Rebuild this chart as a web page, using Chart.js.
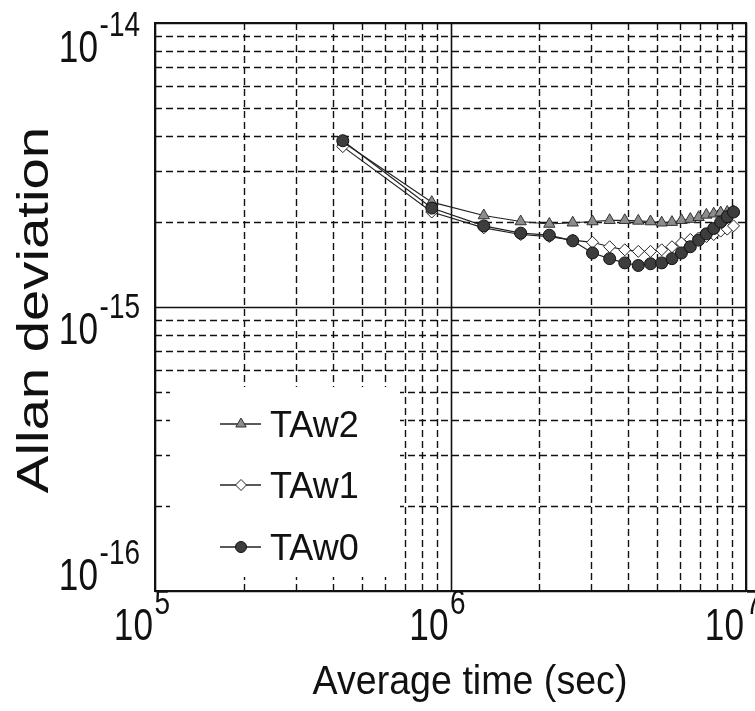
<!DOCTYPE html>
<html>
<head>
<meta charset="utf-8">
<script src="https://cdn.jsdelivr.net/npm/chart.js@4.4.1/dist/chart.umd.min.js"></script>
<style>
  html, body { margin: 0; padding: 0; background: #fff; }
  #wrap { width: 755px; height: 711px; }
</style>
</head>
<body>
<div id="wrap"><canvas id="allanChart" width="755" height="711"></canvas></div>
<script>
// averaging time (s), every 5 days
const tauSec = [432000, 864000, 1296000, 1728000, 2160000, 2592000, 3024000, 3456000, 3888000, 4320000, 4752000,
  5184000, 5616000, 6048000, 6480000, 6912000, 7344000, 7776000, 8208000, 8640000, 9072000];

// Allan deviation
const taw2 = [3.81e-15, 2.34e-15, 2.10e-15, 2.00e-15, 1.96e-15, 1.98e-15, 2.00e-15, 2.02e-15, 2.02e-15, 2.01e-15, 2.00e-15,
  1.98e-15, 1.99e-15, 2.02e-15, 2.04e-15, 2.07e-15, 2.11e-15, 2.13e-15, 2.15e-15, 2.16e-15, 2.17e-15];
const taw1 = [3.67e-15, 2.16e-15, 1.90e-15, 1.80e-15, 1.77e-15, 1.72e-15, 1.69e-15, 1.63e-15, 1.59e-15, 1.57e-15, 1.57e-15,
  1.59e-15, 1.63e-15, 1.68e-15, 1.73e-15, 1.75e-15, 1.77e-15, 1.80e-15, 1.85e-15, 1.88e-15, 1.93e-15];
const taw0 = [3.85e-15, 2.23e-15, 1.93e-15, 1.82e-15, 1.79e-15, 1.71e-15, 1.55e-15, 1.48e-15, 1.43e-15, 1.40e-15, 1.42e-15,
  1.43e-15, 1.48e-15, 1.55e-15, 1.63e-15, 1.72e-15, 1.81e-15, 1.89e-15, 1.99e-15, 2.08e-15, 2.16e-15];

const seriesNames = ['TAw2', 'TAw1', 'TAw0'];

// tick labels (10^exp)
const xTickValues = [1e5, 1e6, 1e7];
const xTickExp = ['5', '6', '7'];
const yTickValues = [1e-14, 1e-15, 1e-16];
const yTickExp = ['-14', '-15', '-16'];

const xTitle = 'Average time (sec)';
const yTitle = 'Allan deviation';

const FONT = '"Liberation Sans", Arial, sans-serif';

function toPoints(vals) {
  return tauSec.map((t, i) => ({ x: t, y: vals[i] }));
}

function isDecade(v) {
  const l = Math.log10(v);
  return Math.abs(l - Math.round(l)) < 1e-9;
}

// 1..9 x 10^n between min and max
function gridValues(min, max) {
  const out = [];
  for (let e = Math.floor(Math.log10(min)); e <= Math.ceil(Math.log10(max)); e++) {
    for (let m = 1; m <= 9; m++) {
      const v = m * Math.pow(10, e);
      if (v >= min * 0.999999 && v <= max * 1.000001) out.push(v);
    }
  }
  return out;
}

function drawPower(ctx, xRight, baseline, exp, size) {
  ctx.save();
  ctx.translate(xRight, baseline);
  ctx.scale(0.8, 1);
  ctx.fillStyle = '#111';
  ctx.textBaseline = 'alphabetic';
  ctx.font = size + 'px ' + FONT;
  ctx.textAlign = 'right';
  ctx.fillText('10', 0, 0);
  ctx.font = Math.round(size * 0.8) + 'px ' + FONT;
  ctx.textAlign = 'left';
  ctx.fillText(exp, 2, -size * 0.6);
  ctx.restore();
}

const styles = [
  { pointStyle: 'triangle', radius: 6.5, fill: '#8c8c8c', stroke: '#333333' },
  { pointStyle: 'rectRot', radius: 6, fill: '#ffffff', stroke: '#222222' },
  { pointStyle: 'circle', radius: 6, fill: '#3d3d3d', stroke: '#111111' }
];

const legendBox = { x0: 170, y0: 387, x1: 400, y1: 577 };

function strokeLine(ctx, x0, y0, x1, y1) {
  ctx.beginPath();
  ctx.moveTo(x0, y0);
  ctx.lineTo(x1, y1);
  ctx.stroke();
}

const framePlugin = {
  id: 'frame',
  beforeDatasetsDraw(chart) {
    const { ctx, chartArea: a, scales: { x, y } } = chart;
    ctx.save();
    ctx.strokeStyle = '#111';
    // dashed minor grid
    ctx.lineWidth = 1.4;
    ctx.setLineDash([7, 4]);
    gridValues(x.min, x.max).filter(v => !isDecade(v)).forEach(v => {
      const px = Math.round(x.getPixelForValue(v)) + 0.5;
      strokeLine(ctx, px, a.top, px, a.bottom);
    });
    gridValues(y.min, y.max).filter(v => !isDecade(v)).forEach(v => {
      const py = Math.round(y.getPixelForValue(v)) + 0.5;
      strokeLine(ctx, a.left, py, a.right, py);
    });
    // solid decade lines
    ctx.setLineDash([]);
    ctx.lineWidth = 1.6;
    gridValues(x.min, x.max).filter(isDecade).forEach(v => {
      const px = Math.round(x.getPixelForValue(v)) + 0.5;
      strokeLine(ctx, px, a.top, px, a.bottom);
    });
    gridValues(y.min, y.max).filter(isDecade).forEach(v => {
      const py = Math.round(y.getPixelForValue(v)) + 0.5;
      strokeLine(ctx, a.left, py, a.right, py);
    });
    // legend background covers the grid
    ctx.fillStyle = '#fff';
    ctx.fillRect(legendBox.x0, legendBox.y0, legendBox.x1 - legendBox.x0, legendBox.y1 - legendBox.y0);
    // frame
    ctx.lineWidth = 2;
    ctx.strokeRect(a.left, a.top, a.right - a.left, a.bottom - a.top);
    ctx.restore();
  },
  afterDraw(chart) {
    const { ctx, chartArea: a, scales: { x, y } } = chart;
    ctx.save();
    // legend entries
    const rows = [424, 485, 547];
    seriesNames.forEach((name, i) => {
      const ly = rows[i];
      const s = styles[i];
      ctx.strokeStyle = '#222';
      ctx.lineWidth = 1.3;
      strokeLine(ctx, 220, ly, 261, ly);
      ctx.fillStyle = s.fill;
      ctx.strokeStyle = s.stroke;
      ctx.lineWidth = 1;
      Chart.helpers.drawPoint(ctx, { pointStyle: s.pointStyle, radius: s.radius - 0.5, borderWidth: 1, rotation: 0 }, 241, ly);
      ctx.fillStyle = '#111';
      ctx.font = '36px ' + FONT;
      ctx.textAlign = 'left';
      ctx.textBaseline = 'alphabetic';
      ctx.fillText(name, 270, ly + 13);
    });

    // y tick labels
    const yOff = [39, 37, -1];
    yTickValues.forEach((v, i) => {
      drawPower(ctx, 98, y.getPixelForValue(v) + yOff[i], yTickExp[i], 44);
    });
    // x tick labels
    xTickValues.forEach((v, i) => {
      drawPower(ctx, x.getPixelForValue(v) - 2, 640, xTickExp[i], 44);
    });

    // axis titles
    ctx.fillStyle = '#111';
    ctx.textAlign = 'center';
    ctx.textBaseline = 'alphabetic';
    ctx.save();
    ctx.translate(470, 694);
    ctx.scale(0.94, 1);
    ctx.font = '40px ' + FONT;
    ctx.fillText(xTitle, 0, 0);
    ctx.restore();

    ctx.save();
    ctx.translate(48, 310);
    ctx.rotate(-Math.PI / 2);
    ctx.scale(1.28, 1);
    ctx.font = '44px ' + FONT;
    ctx.fillText(yTitle, 0, 0);
    ctx.restore();
    ctx.restore();
  }
};

const datasets = [taw2, taw1, taw0].map((vals, i) => ({
  label: seriesNames[i],
  data: toPoints(vals),
  borderColor: '#222',
  borderWidth: 1.2,
  pointStyle: styles[i].pointStyle,
  pointRadius: styles[i].radius,
  pointBackgroundColor: styles[i].fill,
  pointBorderColor: styles[i].stroke,
  pointBorderWidth: 1,
  tension: 0,
  order: 2 - i
}));

new Chart(document.getElementById('allanChart'), {
  type: 'line',
  data: { datasets: datasets },
  options: {
    responsive: false,
    animation: false,
    layout: { padding: { left: 155, top: 23, right: 9, bottom: 120 } },
    plugins: {
      legend: { display: false },
      tooltip: { enabled: false }
    },
    scales: {
      x: {
        type: 'logarithmic',
        min: 1e5,
        max: 1e7,
        ticks: { display: false, padding: 0 },
        grid: { display: false, drawTicks: false, tickLength: 0 },
        border: { display: false }
      },
      y: {
        type: 'logarithmic',
        min: 1e-16,
        max: 1e-14,
        ticks: { display: false, padding: 0 },
        grid: { display: false, drawTicks: false, tickLength: 0 },
        border: { display: false }
      }
    }
  },
  plugins: [framePlugin]
});
</script>
</body>
</html>
